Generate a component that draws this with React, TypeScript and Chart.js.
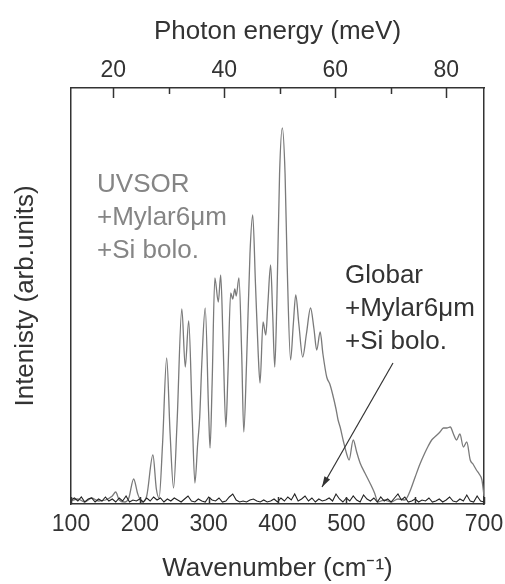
import React, { useEffect, useRef } from "react";
import { Chart, registerables } from "chart.js";
Chart.register(...registerables);

// ---------- data ----------
const CM_PER_MEV = 8.0655;
const wavenumberTicks = [100, 200, 300, 400, 500, 600, 700];
const energyTicks = [20, 30, 40, 50, 60, 70, 80];

const uvsorWn = [
  100, 110, 120, 130, 140, 150, 160, 165, 170, 178, 184, 191, 197, 203, 210, 219, 224, 228, 233, 239,
  244, 249, 254, 261, 266, 271, 276, 280, 284, 287, 290, 295, 300, 302, 305, 309, 314, 317.5, 321, 325,
  328, 332, 335, 338, 340, 344, 348, 351, 355, 360, 364, 368, 372, 374.6, 379, 383, 386, 390, 393, 396,
  399, 403, 407, 411, 414, 419, 423, 426.5, 431, 436.6, 442, 448, 453, 457, 462, 466, 471.5, 476, 480, 485,
  488, 491, 496, 500.5, 504, 510, 515, 520, 527, 535, 541, 546, 555, 565, 575, 585, 592, 600, 607, 614,
  619, 624, 630, 636, 641, 646, 651, 655.6, 660, 665, 670, 675, 680, 684, 689, 693, 697, 700,
];
const uvsorI = [
  3, 5, 2, 6, 3, 4, 8, 12, 4, 2, 6, 25, 10, 2, 8, 49, 15, 6, 60, 146,
  70, 16, 80, 195, 137, 183, 90, 21, 60, 87, 140, 196, 90, 56, 120, 226, 202, 229, 160, 77,
  130, 211, 205, 215, 208, 226, 150, 72, 140, 250, 289, 220, 150, 121, 182, 169, 200, 239, 190, 137,
  200, 330, 376, 330, 240, 144, 180, 209, 180, 147, 170, 196, 175, 154, 172, 150, 127, 120, 110, 95,
  84, 77, 62, 50, 44, 64, 52, 41, 31, 20, 11, 2, 4, 2, 5, 4, 12, 27, 40, 51,
  58, 64, 68, 72, 76, 76, 77, 70, 64, 70, 57, 62, 44, 40, 34, 30, 24, 8,
];

const globarWn = [
  100, 105, 110, 115, 120, 125, 130, 135, 140, 145, 150, 155, 160, 165, 170, 175, 180, 185, 190, 195, 200,
  205, 210, 215, 220, 225, 230, 235, 240, 245, 250, 255, 260, 265, 270, 275, 280, 285, 290, 295, 300,
  305, 310, 315, 320, 325, 330, 335, 340, 345, 350, 355, 360, 365, 370, 375, 380, 385, 390, 395, 400,
  405, 410, 415, 420, 425, 430, 435, 440, 445, 450, 455, 460, 465, 470, 475, 480, 485, 490, 495, 500,
  505, 510, 515, 520, 525, 530, 535, 540, 545, 550, 555, 560, 565, 570, 575, 580, 585, 590, 595, 600,
  605, 610, 615, 620, 625, 630, 635, 640, 645, 650, 655, 660, 665, 670, 675, 680, 685, 690, 695, 700,
];
const globarI = [
  4, 6, 3, 7, 2, 5, 6, 2, 5, 3, 7, 3, 5, 2, 6, 3, 8, 2, 4, 3, 5,
  2, 6, 3, 7, 4, 6, 2, 5, 3, 6, 4, 2, 5, 8, 3, 2, 5, 3, 2, 7,
  4, 3, 6, 2, 3, 7, 10, 4, 2, 3, 2, 4, 5, 3, 2, 4, 2, 3, 5, 2,
  6, 3, 7, 4, 10, 3, 5, 8, 3, 6, 2, 5, 3, 4, 6, 3, 10, 5, 2, 6,
  3, 8, 4, 2, 9, 5, 3, 6, 2, 7, 3, 5, 2, 6, 10, 4, 7, 2, 3, 5,
  2, 4, 3, 6, 2, 3, 5, 2, 4, 7, 3, 2, 5, 3, 9, 3, 2, 8, 3, 2,
];

const uvsorLabel = ["UVSOR", "+Mylar6\u03bcm", "+Si bolo."];
const globarLabel = ["Globar", "+Mylar6\u03bcm", "+Si bolo."];
// annotation anchors in data units (wavenumber, intensity)
const uvsorLabelAt = { x: 137.8, y: 312 };
const globarLabelAt = { x: 498, y: 221 };
const arrowFrom = { x: 567.8, y: 141 };
const arrowTo = { x: 464.7, y: 17 };

const FONT = "'Liberation Sans', Arial, Helvetica, sans-serif";
const DARK = "#333333";
const GREY = "#858585";

const overlayPlugin = {
  id: "overlay",
  afterDraw(chart: any) {
    const ctx = chart.ctx as CanvasRenderingContext2D;
    const xs = chart.scales.x;
    const x2 = chart.scales.x2;
    const ys = chart.scales.y;
    const { top, bottom } = chart.chartArea;
    ctx.save();
    ctx.strokeStyle = DARK;
    ctx.lineWidth = 1.5;
    // bottom ticks (inward)
    for (const v of wavenumberTicks) {
      const p = Math.round(xs.getPixelForValue(v)) + 0.5;
      ctx.beginPath();
      ctx.moveTo(p, bottom);
      ctx.lineTo(p, bottom - 7);
      ctx.stroke();
    }
    // top ticks (inward)
    for (const v of energyTicks) {
      const p = Math.round(x2.getPixelForValue(v)) + 0.5;
      const len = v % 20 === 0 ? 10 : 6;
      ctx.beginPath();
      ctx.moveTo(p, top);
      ctx.lineTo(p, top + len);
      ctx.stroke();
    }
    // labels
    ctx.font = `26px ${FONT}`;
    ctx.textAlign = "left";
    ctx.textBaseline = "alphabetic";
    const lineGap = 33;
    ctx.fillStyle = GREY;
    uvsorLabel.forEach((t, i) => {
      ctx.fillText(t, xs.getPixelForValue(uvsorLabelAt.x), ys.getPixelForValue(uvsorLabelAt.y) + i * lineGap);
    });
    ctx.fillStyle = DARK;
    globarLabel.forEach((t, i) => {
      ctx.fillText(t, xs.getPixelForValue(globarLabelAt.x), ys.getPixelForValue(globarLabelAt.y) + i * lineGap);
    });
    // arrow
    const ax1 = xs.getPixelForValue(arrowFrom.x);
    const ay1 = ys.getPixelForValue(arrowFrom.y);
    const ax2 = xs.getPixelForValue(arrowTo.x);
    const ay2 = ys.getPixelForValue(arrowTo.y);
    ctx.strokeStyle = DARK;
    ctx.lineWidth = 1.2;
    ctx.beginPath();
    ctx.moveTo(ax1, ay1);
    ctx.lineTo(ax2, ay2);
    ctx.stroke();
    const ang = Math.atan2(ay2 - ay1, ax2 - ax1);
    const hl = 11;
    const hw = 0.3;
    ctx.fillStyle = DARK;
    ctx.beginPath();
    ctx.moveTo(ax2, ay2);
    ctx.lineTo(ax2 - hl * Math.cos(ang - hw), ay2 - hl * Math.sin(ang - hw));
    ctx.lineTo(ax2 - hl * Math.cos(ang + hw), ay2 - hl * Math.sin(ang + hw));
    ctx.closePath();
    ctx.fill();
    ctx.restore();
  },
};

export default function App() {
  const ref = useRef<HTMLCanvasElement>(null);
  useEffect(() => {
    const canvas = ref.current!;
    const noGrid = { display: false, drawTicks: false };
    const border = { display: true, color: DARK, width: 1.5 };
    const chart = new Chart(canvas, {
      type: "line",
      data: {
        datasets: [
          {
            label: "Globar",
            data: globarWn.map((x, i) => ({ x, y: globarI[i] })),
            borderColor: "#222222",
            borderWidth: 1.1,
            pointRadius: 0,
            tension: 0,
            xAxisID: "x",
            yAxisID: "y",
          },
          {
            label: "UVSOR",
            data: uvsorWn.map((x, i) => ({ x, y: uvsorI[i] })),
            borderColor: "#7a7a7a",
            borderWidth: 1.3,
            pointRadius: 0,
            cubicInterpolationMode: "monotone",
            xAxisID: "x",
            yAxisID: "y",
          },
        ],
      },
      options: {
        responsive: false,
        animation: false,
        events: [],
        layout: { padding: 0 },
        plugins: { legend: { display: false }, tooltip: { enabled: false } },
        scales: {
          x: {
            type: "linear",
            position: "bottom",
            min: 100,
            max: 700,
            grid: noGrid,
            border,
            ticks: {
              stepSize: 100,
              color: DARK,
              padding: 7,
              maxRotation: 0,
              font: { family: FONT, size: 23 },
            },
            title: {
              display: true,
              text: "Wavenumber (cm\u207b\u00b9)",
              color: DARK,
              padding: { top: 0, bottom: 0 },
              font: { family: FONT, size: 26 },
            },
            afterFit: (s: any) => {
              s.height = 80;
              s.paddingLeft = 0;
              s.paddingRight = 0;
            },
          },
          x2: {
            type: "linear",
            position: "top",
            min: 100 / CM_PER_MEV,
            max: 700 / CM_PER_MEV,
            grid: noGrid,
            border,
            ticks: {
              stepSize: 10,
              includeBounds: false,
              color: DARK,
              padding: 4,
              maxRotation: 0,
              autoSkip: false,
              font: { family: FONT, size: 23 },
              callback: (v: any) => (energyTicks.includes(v) && v % 20 === 0 ? String(v) : ""),
            },
            title: {
              display: true,
              text: "Photon energy (meV)",
              color: DARK,
              padding: { top: 16, bottom: 0 },
              font: { family: FONT, size: 26 },
            },
            afterFit: (s: any) => {
              s.height = 88;
              s.paddingLeft = 0;
              s.paddingRight = 0;
            },
          },
          y: {
            type: "linear",
            position: "left",
            min: 0,
            max: 416,
            grid: noGrid,
            border,
            ticks: { display: false },
            title: {
              display: true,
              text: "Intenisty (arb.units)",
              color: DARK,
              padding: { top: 10, bottom: 0 },
              font: { family: FONT, size: 26 },
            },
            afterFit: (s: any) => {
              s.width = 71;
              s.paddingTop = 0;
              s.paddingBottom = 0;
            },
          },
          y2: {
            type: "linear",
            position: "right",
            min: 0,
            max: 416,
            grid: noGrid,
            border,
            ticks: { display: false },
            afterFit: (s: any) => {
              s.width = 21;
              s.paddingTop = 0;
              s.paddingBottom = 0;
            },
          },
        },
      },
      plugins: [overlayPlugin],
    } as any);
    return () => chart.destroy();
  }, []);
  return (
    <div style={{ position: "absolute", left: 0, top: 0, width: 505, height: 584, background: "#fff" }}>
      <canvas ref={ref} width={505} height={584} style={{ display: "block" }} />
    </div>
  );
}
